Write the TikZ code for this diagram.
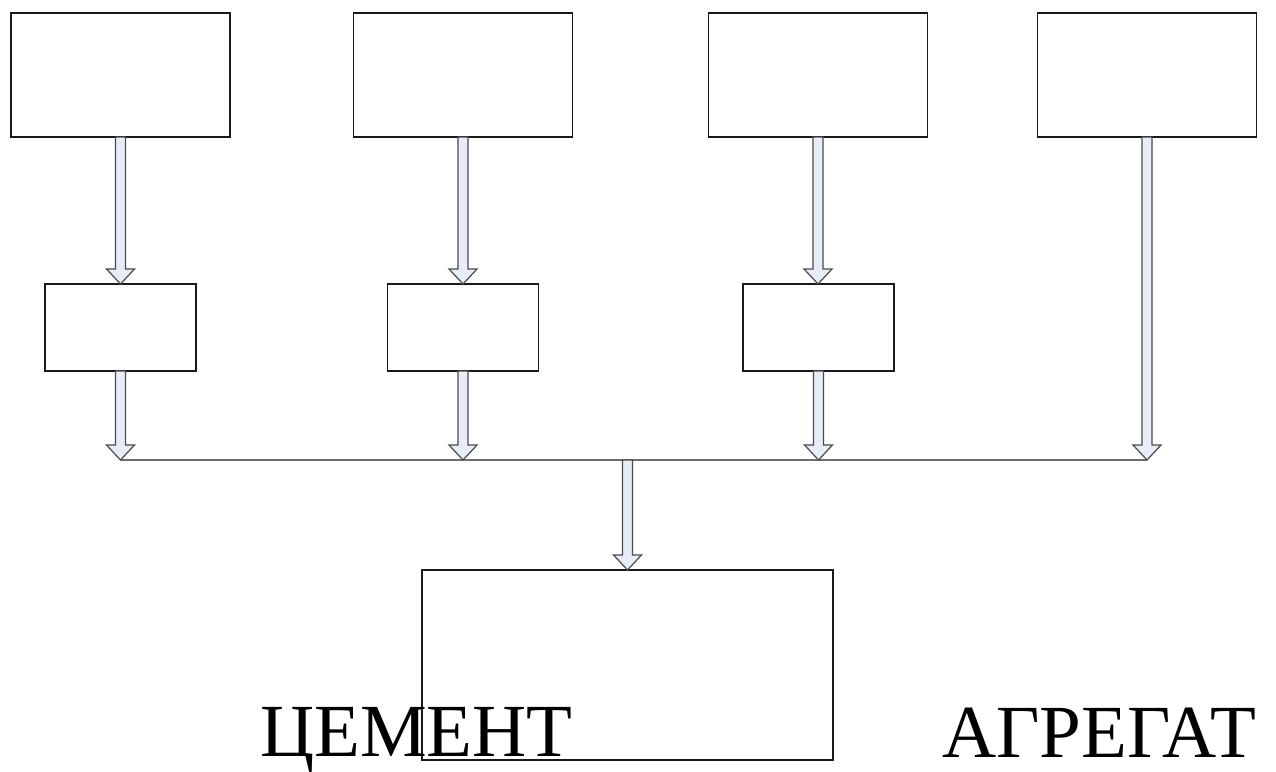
\documentclass[tikz,border=0pt]{standalone}
\usepackage{fontspec}
\setmainfont{Liberation Serif}
\usetikzlibrary{calc}
\definecolor{boxline}{HTML}{1A1A1A}
\definecolor{busline}{HTML}{6E6E6E}
\definecolor{arrowline}{HTML}{4A4A4A}
\definecolor{arrowfill}{HTML}{E6EDF7}

\begin{document}
\begin{tikzpicture}[
              x=1pt,
              y=-1pt,
              bigbox/.style={draw=boxline, line width=1.4pt, fill=white, minimum width=219pt, minimum height=124pt, inner sep=0pt, outer sep=0pt},
              smallbox/.style={draw=boxline, line width=1.4pt, fill=white, minimum width=151pt, minimum height=87pt, inner sep=0pt, outer sep=0pt},
              resbox/.style={draw=boxline, line width=1.4pt, minimum width=411pt, minimum height=190pt, inner sep=0pt, outer sep=0pt},
              label/.style={font=\fontsize{75}{80}\selectfont, inner sep=0pt, anchor=base west},
              blockarrow/.style={draw=arrowline, line width=1.2pt, fill=arrowfill, line join=miter,
                to path={let \p1=(\tikztostart), \p2=(\tikztotarget) in
                  (\x1-5pt,\y1) -- (\x1-5pt,\y2+15pt) -- (\x1-14pt,\y2+15pt) -- (\x1,\y2)
                  -- (\x1+14pt,\y2+15pt) -- (\x1+5pt,\y2+15pt) -- (\x1+5pt,\y1) -- cycle}}
            ]
            \useasboundingbox (0,0) rectangle (1276,771);

            \node[bigbox] (src1) at (120.5,75) {};
            \node[bigbox] (src2) at (463,75) {};
            \node[bigbox] (src3) at (818,75) {};
            \node[bigbox] (src4) at (1147,75) {};

            \node[smallbox] (dose1) at (120.5,327.5) {};
            \node[smallbox] (dose2) at (463,327.5) {};
            \node[smallbox] (dose3) at (818.5,327.5) {};

            \node[resbox] (mixer) at (627.5,665) {};

            \coordinate (bus) at (0,460);
            \coordinate (busL) at (src1.south |- bus);
            \coordinate (busR) at (src4.south |- bus);

            \draw[busline, line width=1.4pt] (busL) -- (busR);

            \draw[blockarrow] (src1.south) to (dose1.north);
            \draw[blockarrow] (src2.south) to (dose2.north);
            \draw[blockarrow] (src3.south) to (dose3.north);

            \draw[blockarrow] (dose1.south) to (dose1.south |- bus);
            \draw[blockarrow] (dose2.south) to (dose2.south |- bus);
            \draw[blockarrow] (dose3.south) to (dose3.south |- bus);
            \draw[blockarrow] (src4.south) to (busR);

            \draw[blockarrow] (mixer.north |- bus) to (mixer.north);

            \node[label] (cement) at (260,756) {ЦЕМЕНТ};
            \node[label] (unit) at (942,757) {АГРЕГАТ};
            \end{tikzpicture}
\end{document}
